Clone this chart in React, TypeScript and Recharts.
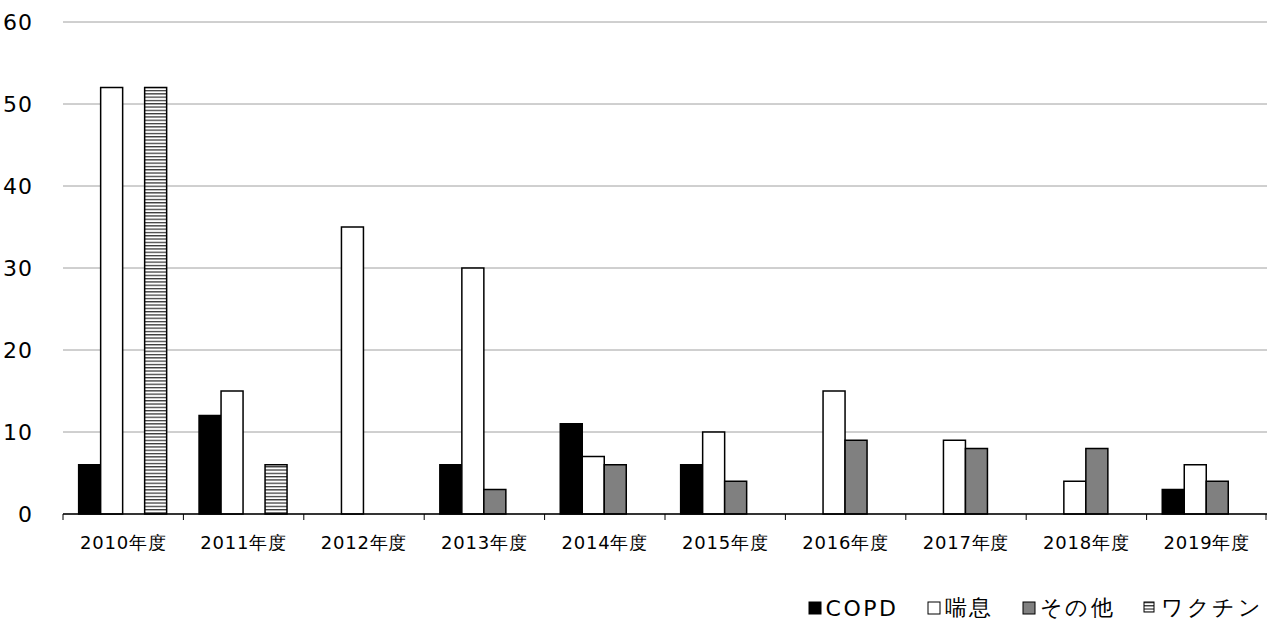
import { Bar, BarChart, CartesianGrid, Legend, XAxis, YAxis } from 'recharts';

const years = ['2010年度', '2011年度', '2012年度', '2013年度', '2014年度', '2015年度', '2016年度', '2017年度', '2018年度', '2019年度'];
const copd = [6, 12, 0, 6, 11, 6, 0, 0, 0, 3];
const asthma = [52, 15, 35, 30, 7, 10, 15, 9, 4, 6];
const other = [0, 0, 0, 3, 6, 4, 9, 8, 8, 4];
const vaccine = [52, 6, 0, 0, 0, 0, 0, 0, 0, 0];
const yTicks = [0, 10, 20, 30, 40, 50, 60];

const data = years.map((year, i) => ({
    year, copd: copd[i], asthma: asthma[i], other: other[i], vaccine: vaccine[i],
}));

const W = 1267;
const H = 623;
const LEFT = 63;
const BAND = (W - LEFT) / years.length;
const FONT = '"DejaVu Sans", Verdana, sans-serif';

function XTick(props: any) {
    const { x, y, payload, index } = props;
    const last = index === years.length - 1;
    return (
        <g>
            <line x1={x - BAND / 2} x2={x - BAND / 2} y1={y - 8} y2={y - 2} stroke="#000" strokeWidth={1} />
            {last && <line x1={x + BAND / 2 - 1} x2={x + BAND / 2 - 1} y1={y - 8} y2={y - 2} stroke="#000" />}
            <text x={x} y={y + 27} textAnchor="middle" fontSize={18} letterSpacing={0.8} fontFamily={FONT} fill="#000">
                {payload.value}
            </text>
        </g>
    );
}

const legendItems = [
    { label: 'COPD', fill: '#000', w: 12 },
    { label: '喘息', fill: '#fff', w: 12 },
    { label: 'その他', fill: '#808080', w: 12 },
    { label: 'ワクチン', fill: 'url(#hatch)', w: 10 },
];

function LegendBox() {
    return (
        <div style={{ display: 'flex', justifyContent: 'flex-end', gap: 28, paddingRight: 4, fontFamily: FONT, fontSize: 22, letterSpacing: 2.5, color: '#000' }}>
            {legendItems.map((it) => (
                <span key={it.label} style={{ display: 'flex', alignItems: 'center', gap: 4 }}>
                    <svg width={14} height={14}>
                        <rect x={1} y={1} width={it.w} height={it.w} fill={it.fill} stroke="#000" strokeWidth={1} />
                    </svg>
                    {it.label}
                </span>
            ))}
        </div>
    );
}

export default function App() {
    return (
        <div style={{ position: 'absolute', left: 0, top: 0, width: W, height: H, background: '#fff' }}>
            <BarChart
                width={W}
                height={H}
                data={data}
                margin={{ top: 22, right: 0, bottom: 0, left: 0 }}
                barCategoryGap="13%"
                barGap={0}
            >
                <defs>
                    <pattern id="hatch" width={4} height={3.3} patternUnits="userSpaceOnUse">
                        <rect width={4} height={3.3} fill="#fff" />
                        <line x1={0} x2={4} y1={1.5} y2={1.5} stroke="#000" strokeWidth={1} />
                    </pattern>
                </defs>
                <CartesianGrid stroke="#a0a0a0" vertical={false} />
                <XAxis
                    dataKey="year"
                    tick={<XTick />}
                    tickLine={false}
                    axisLine={{ stroke: '#000', strokeWidth: 1.5 }}
                    height={42}
                    interval={0}
                />
                <YAxis
                    domain={[0, 60]}
                    ticks={yTicks}
                    width={LEFT}
                    axisLine={false}
                    tickLine={false}
                    tick={{ fill: '#000', fontSize: 22, fontFamily: FONT, letterSpacing: 1 }}
                    tickMargin={24}
                />
                <Legend verticalAlign="bottom" content={<LegendBox />} wrapperStyle={{ paddingTop: 37, bottom: 0 }} />
                <Bar dataKey="copd" name="COPD" fill="#000" stroke="#000" strokeWidth={1.5} isAnimationActive={false} />
                <Bar dataKey="asthma" name="喘息" fill="#fff" stroke="#000" strokeWidth={1.5} isAnimationActive={false} />
                <Bar dataKey="other" name="その他" fill="#808080" stroke="#000" strokeWidth={1.5} isAnimationActive={false} />
                <Bar dataKey="vaccine" name="ワクチン" fill="url(#hatch)" stroke="#000" strokeWidth={1.5} isAnimationActive={false} />
            </BarChart>
        </div>
    );
}
